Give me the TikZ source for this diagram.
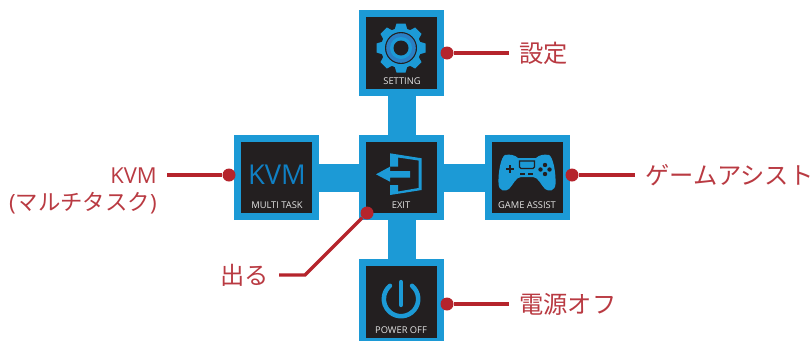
\documentclass[tikz,border=0pt]{standalone}
\usepackage{fontspec}
\setmainfont{Open Sans}
\newfontfamily\jpfont{Noto Sans CJK JP}
\usetikzlibrary{backgrounds}
\definecolor{osdblue}{HTML}{1C9AD6}
\definecolor{osdkvm}{HTML}{1080C4}
\definecolor{osdring}{HTML}{2A7FC4}
\definecolor{osddark}{HTML}{231F20}
\definecolor{calloutred}{HTML}{B5242C}
\definecolor{labelred}{HTML}{B93A42}
\tikzset{
   menubox/.style={draw=osdblue, fill=osddark, line width=5.25pt, minimum size=59pt, inner sep=0pt},
   menubar/.style={osdblue, line width=21pt},
   caption/.style={text=white!90!black, font=\fontsize{7}{8}\selectfont, inner sep=0pt},
   calloutdot/.style={circle, fill=calloutred, minimum size=9.75pt, inner sep=0pt},
   callout/.style={calloutred, line width=2.6pt},
   calloutlabel/.style={text=labelred, font=\fontsize{18.2}{21}\jpfont, inner sep=7.5pt},
}
\begin{document}
\begin{tikzpicture}[x=0.75pt,y=-0.75pt]
\useasboundingbox (0,0) rectangle (812,340);
% menu boxes
\node[menubox] (setting) at (401.5,53) {};
\node[menubox] (exit) at (401.5,177.5) {};
\node[menubox] (kvm) at (276.5,177.5) {};
\node[menubox] (game) at (527.5,177.5) {};
\node[menubox] (power) at (401.5,302) {};
\begin{scope}[on background layer]
\draw[menubar] (setting) -- (power);
\draw[menubar] (kvm) -- (game);
\end{scope}
% captions
\node[caption] (settingcap) at (402,81) {SETTING};
\node[caption] (exitcap) at (401,205) {EXIT};
\node[caption] (kvmcap) at (277,205) {MULTI TASK};
\node[caption] (gamecap) at (527,205) {GAME ASSIST};
\node[caption] (powercap) at (401,330) {POWER OFF};
% gear
\begin{scope}[shift={(401,48)}]
\fill[osdblue] (0,0) circle (20);
\foreach \a in {0,45,...,315}
  \fill[osdblue,rotate=\a] (-6.5,-18) -- (-4.5,-24.5) -- (4.5,-24.5) -- (6.5,-18) -- cycle;
\fill[osddark] (0,0) circle (16);
\fill[osdring] (0,0) circle (14.8);
\fill[osdblue] (0,0) circle (11);
\fill[osddark] (0,0) circle (7.5);
\end{scope}
% exit door and arrow
\fill[osdblue] (390,153.3) -- (421.7,158.3) -- (421.7,190) -- (390,195) -- (390,185) -- (398,185)
  -- (398,191.5) -- (418.5,188) -- (418.5,160.5) -- (398,157.5) -- (398,166.7) -- (390,166.7) -- cycle;
\fill[osdblue] (376,174.3) -- (390,166.7) -- (390,171) -- (410,171) -- (410,177.6) -- (390,177.6) -- (390,181.7) -- cycle;
% kvm
\node[text=osdkvm, font=\fontsize{20.5}{21}\selectfont, inner sep=0pt] (kvmicon) at (277,175) {KVM};
% gamepad
\fill[osdblue] (505,155) .. controls (510,154) and (515,155) .. (518,158) -- (536,158)
  .. controls (539,155) and (544,154) .. (549,155) .. controls (553,157) and (556,172) .. (555.5,184)
  .. controls (555,191) and (549,192) .. (545,189) .. controls (541,185) and (538,177) .. (533,177)
  -- (521,177) .. controls (516,177) and (513,185) .. (509,189) .. controls (505,192) and (499,191) .. (498.5,184)
  .. controls (498,172) and (501,157) .. (505,155) -- cycle;
\draw[osddark, line width=1pt] (519.5,161) -- (519.5,167) -- (521,168.5) -- (533,168.5) -- (534.5,167) -- (534.5,161) -- cycle;
\fill[osddark] (506,168) rectangle (514,170.2);
\fill[osddark] (508.9,165) rectangle (511.1,173);
\fill[osddark] (520,173.2) rectangle (525,175.2);
\fill[osddark] (528,173.2) rectangle (533,175.2);
\foreach \x/\y in {545/165,549.5/169.5,545/174,540.5/169.5}
  \fill[osddark] (\x,\y) circle (2.2);
% power
\draw[osdblue, line width=3.4pt, line cap=round] (401,299) ++(-50:17.2) arc[start angle=-50, delta angle=280, radius=17.2];
\draw[osdblue, line width=3.2pt, line cap=round] (401,282) -- (401,305);
% callouts
\node[calloutdot] (settingdot) at (447,53) {};
\node[calloutdot] (kvmdot) at (229,175) {};
\node[calloutdot] (exitdot) at (367,213) {};
\node[calloutdot] (gamedot) at (572,175) {};
\node[calloutdot] (powerdot) at (447,304) {};
\node[calloutlabel, anchor=west] (settinglabel) at (509,53) {設定};
\node[calloutlabel, anchor=east, font=\fontsize{16.5}{20}\selectfont] (kvmlabel) at (167,176) {KVM};
\node[calloutlabel, anchor=east, font=\fontsize{16.8}{20}\jpfont] (kvmsub) at (167,203) {{\rmfamily(}マルチタスク{\rmfamily)}};
\node[calloutlabel, anchor=east] (exitlabel) at (279,275) {出る};
\node[calloutlabel, anchor=west] (gamelabel) at (635,175) {ゲームアシスト};
\node[calloutlabel, anchor=west] (powerlabel) at (509,304) {電源オフ};
\draw[callout] (settingdot) -- (settinglabel);
\draw[callout] (kvmdot) -- (kvmdot -| kvmlabel.east);
\draw[callout] (exitdot) -- (305,275) -- (exitlabel);
\draw[callout] (gamedot) -- (gamelabel);
\draw[callout] (powerdot) -- (powerlabel);
\end{tikzpicture}
\end{document}
